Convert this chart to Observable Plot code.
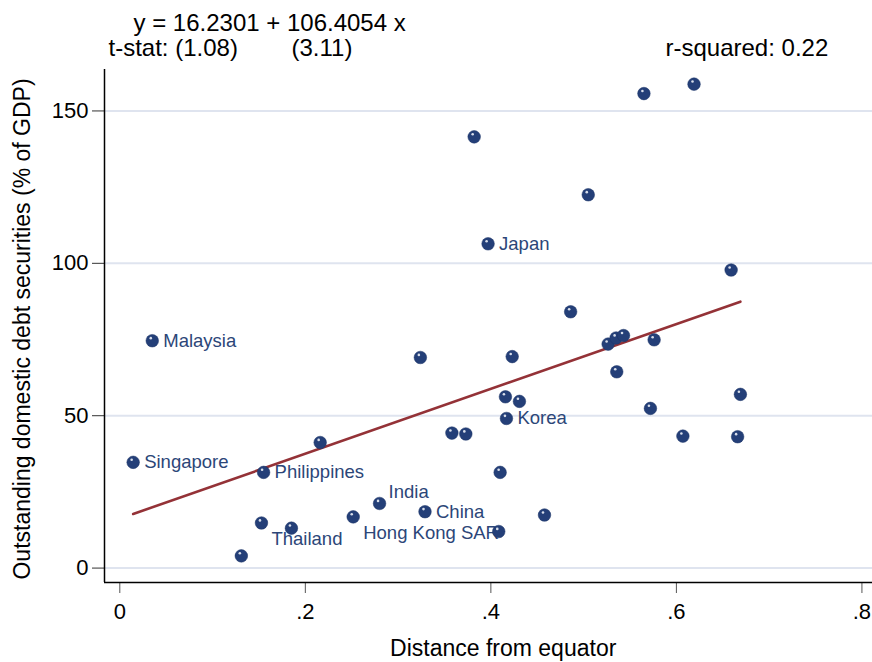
<!DOCTYPE html>
<html><head><meta charset="utf-8">
<script src="https://cdn.jsdelivr.net/npm/d3@7"></script>
<script src="https://cdn.jsdelivr.net/npm/@observablehq/plot@0.6"></script>
<style>body{margin:0;background:#fff;} svg{display:block}</style>
</head><body><div id="chart"></div>
<script>
// ---- data ----
const names = ["Singapore","Malaysia","","Thailand","Philippines","","","Hong Kong SAR","India","","China","","","","Japan","","","","Korea","","","","","","","","","","","","","","","","",""];
const xs = [0.0144,0.035,0.131,0.1527,0.155,0.185,0.216,0.2516,0.280,0.324,0.329,0.358,0.373,0.382,0.397,0.4085,0.410,0.4157,0.4168,0.423,0.4308,0.4578,0.486,0.505,0.5264,0.535,0.5357,0.543,0.565,0.572,0.576,0.607,0.619,0.659,0.666,0.669];
const ys = [34.7,74.6,4.0,14.8,31.4,13.1,41.2,16.8,21.2,69.1,18.5,44.3,44.0,141.5,106.4,12.0,31.4,56.2,49.1,69.4,54.7,17.4,84.1,122.5,73.5,75.5,64.4,76.3,155.7,52.4,74.9,43.3,158.8,97.8,43.1,57.0];
const intercept = 16.2301, slope = 106.4054;
const xTicks = [0, 0.2, 0.4, 0.6, 0.8];
const xTickLabels = ["0", ".2", ".4", ".6", ".8"];
const yTicks = [0, 50, 100, 150];
const yTickLabels = ["0", "50", "100", "150"];
const eqText = "y = 16.2301 + 106.4054 x";
const tstat1 = "t-stat: (1.08)";
const tstat2 = "(3.11)";
const rsqText = "r-squared: 0.22";
const xTitle = "Distance from equator";
const yTitle = "Outstanding domestic debt securities (% of GDP)";

// ---- styling ----
const labelClock = {"Singapore":3,"Malaysia":3,"Philippines":3,"Japan":3,"Korea":3,"China":3,"India":2,"Thailand":4,"Hong Kong SAR":4};
const labelOffsets = {2:[9,-11],3:[11,0],4:[10,16]};
const xDomain = [-0.0165, 0.8114];
const yDomain = [-4.73, 163.6];
const font = "'Liberation Sans', Arial, Helvetica, sans-serif";
const navy = "#243f78", labelColor = "#2c4678", gridColor = "#dfe4ef", lineColor = "#943237";

const rows = xs.map((x, i) => ({x, y: ys[i], name: names[i], pos: labelClock[names[i]]}));
const fit = d3.extent(xs).map(x => ({x, y: intercept + slope * x}));

const labelMarks = [2, 3, 4].map(p => Plot.text(rows.filter(d => d.pos === p), {
  x: "x", y: "y", text: "name", dx: labelOffsets[p][0], dy: labelOffsets[p][1],
  textAnchor: "start", fill: labelColor, fontSize: 18.5
}));

const chart = Plot.plot({
  width: 872, height: 662,
  marginLeft: 104, marginRight: 0, marginTop: 69, marginBottom: 80,
  style: {fontFamily: font, background: "#fff", overflow: "visible", color: "#000"},
  x: {domain: xDomain},
  y: {domain: yDomain},
  marks: [
    Plot.gridY(yTicks, {stroke: gridColor, strokeOpacity: 1, strokeWidth: 2}),
    Plot.axisX(xTicks, {tickSize: 11, tickPadding: 10, fontSize: 22, label: null, stroke: "#555",
      tickFormat: d => xTickLabels[xTicks.indexOf(d)]}),
    Plot.axisY(yTicks, {tickSize: 12, tickPadding: 4, fontSize: 22, label: null, stroke: "#333",
      tickFormat: d => yTickLabels[yTicks.indexOf(d)]}),
    Plot.ruleX([xDomain[0]], {stroke: "#000", strokeWidth: 1.5}),
    Plot.ruleY([yDomain[0]], {stroke: "#000", strokeWidth: 1.5}),
    Plot.line(fit, {x: "x", y: "y", stroke: lineColor, strokeWidth: 2.6}),
    ...labelMarks,
    Plot.dot(rows, {x: "x", y: "y", r: 6.3, fill: navy, stroke: "#1d3466", strokeWidth: 0.5}),
    Plot.dot(rows, {x: "x", y: "y", r: 1.3, dx: -1.5, dy: -2.6, fill: "#d8deea"}),
    Plot.text([eqText], {text: d => d, frameAnchor: "top-left", dx: 29, dy: -55.5, textAnchor: "start", fontSize: 24, fill: "#000"}),
    Plot.text([tstat1], {text: d => d, frameAnchor: "top-left", dx: 4, dy: -31, textAnchor: "start", fontSize: 24, fill: "#000"}),
    Plot.text([tstat2], {text: d => d, frameAnchor: "top-left", dx: 187, dy: -31, textAnchor: "start", fontSize: 24, fill: "#000"}),
    Plot.text([rsqText], {text: d => d, frameAnchor: "top-left", dx: 561, dy: -31, textAnchor: "start", fontSize: 24, fill: "#000"}),
    Plot.text([xTitle], {text: d => d, frameAnchor: "bottom", textAnchor: "middle", dx: 14.7, dy: 73, fontSize: 23, fill: "#000"}),
    Plot.text([yTitle], {text: d => d, frameAnchor: "left", textAnchor: "middle", rotate: -90, dx: -81.4, dy: 3, fontSize: 23, fill: "#000"})
  ]
});
document.getElementById("chart").appendChild(chart);
</script>
</body></html>
